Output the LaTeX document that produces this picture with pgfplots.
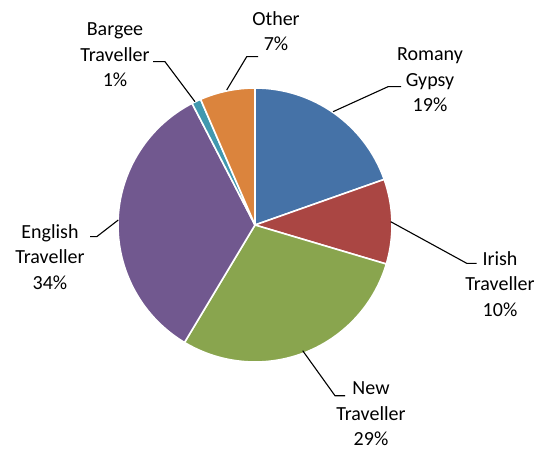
\documentclass[border=0pt]{standalone}
\usepackage{pgfplots}
\usepackage{pgfplotstable}
\pgfplotsset{compat=1.18}
\usepackage{fontspec}
\setmainfont{Carlito}
\definecolor{cA}{HTML}{4572A7}
\definecolor{cB}{HTML}{AA4643}
\definecolor{cC}{HTML}{89A54E}
\definecolor{cD}{HTML}{71588F}
\definecolor{cE}{HTML}{4198AF}
\definecolor{cF}{HTML}{DB843D}
\pgfplotstableread{
value
19.6
10.0
29.0
33.8
1.1
6.5
}\piedata
\def\cum{0}%
\newcommand{\slicedef}[2]{%
 \pgfplotstablegetelem{#1}{value}\of\piedata%
 \pgfmathsetmacro{\start}{90-3.6*\cum}%
 \pgfmathsetmacro{\newcum}{\cum+\pgfplotsretval}%
 \pgfmathsetmacro{\stop}{90-3.6*\newcum}%
 \expandafter\xdef\csname s#2\endcsname{\start}%
 \expandafter\xdef\csname e#2\endcsname{\stop}%
 \xdef\cum{\newcum}%
}
\begin{document}%
\slicedef{0}{A}\slicedef{1}{B}\slicedef{2}{C}\slicedef{3}{D}\slicedef{4}{E}\slicedef{5}{F}%
\begin{tikzpicture}
\begin{axis}[scale only axis, width=540pt, height=450pt,
  xmin=0, xmax=540, ymin=0, ymax=450, hide axis, clip=false]
\path (axis cs:0,0) rectangle (axis cs:540,450);
\newcommand{\slice}[1]{%
  \fill[c#1, draw=white, line width=1.6pt, line join=round]
   (axis cs:255,225) -- ++(\csname s#1\endcsname:137pt)
   arc[start angle=\csname s#1\endcsname, end angle=\csname e#1\endcsname, radius=137pt] -- cycle;}
\slice{A}\slice{B}\slice{C}\slice{D}\slice{E}\slice{F}
\tikzset{lab/.style={align=center, font=\fontsize{20}{25.5}\selectfont, inner sep=0pt}}
\node[lab] at (axis cs:276,419) {Other\\7\%};
\node[lab] at (axis cs:115,395) {Bargee\\Traveller\\1\%};
\node[lab] at (axis cs:430,370) {Romany\\Gypsy\\19\%};
\node[lab] at (axis cs:500,166) {Irish\\Traveller\\10\%};
\node[lab] at (axis cs:371,36) {New\\Traveller\\29\%};
\node[lab] at (axis cs:50,193) {English\\Traveller\\34\%};
\addplot[black, line width=1.1pt, no marks] coordinates {(226.7,360) (246.7,393.3) (258,393.3)};
\addplot[black, line width=1.1pt, no marks] coordinates {(195,348.3) (165,388.3) (153,388.3)};
\addplot[black, line width=1.1pt, no marks] coordinates {(333,338.3) (388,363.3) (401,363.3)};
\addplot[black, line width=1.1pt, no marks] coordinates {(390.7,228.3) (466.7,186.7) (476.7,186.7)};
\addplot[black, line width=1.1pt, no marks] coordinates {(118.3,230) (96.7,213.3) (90,213.3)};
\addplot[black, line width=1.1pt, no marks] coordinates {(302.7,99.3) (335,54.3) (345,54.3)};
\end{axis}
\end{tikzpicture}%
\end{document}
